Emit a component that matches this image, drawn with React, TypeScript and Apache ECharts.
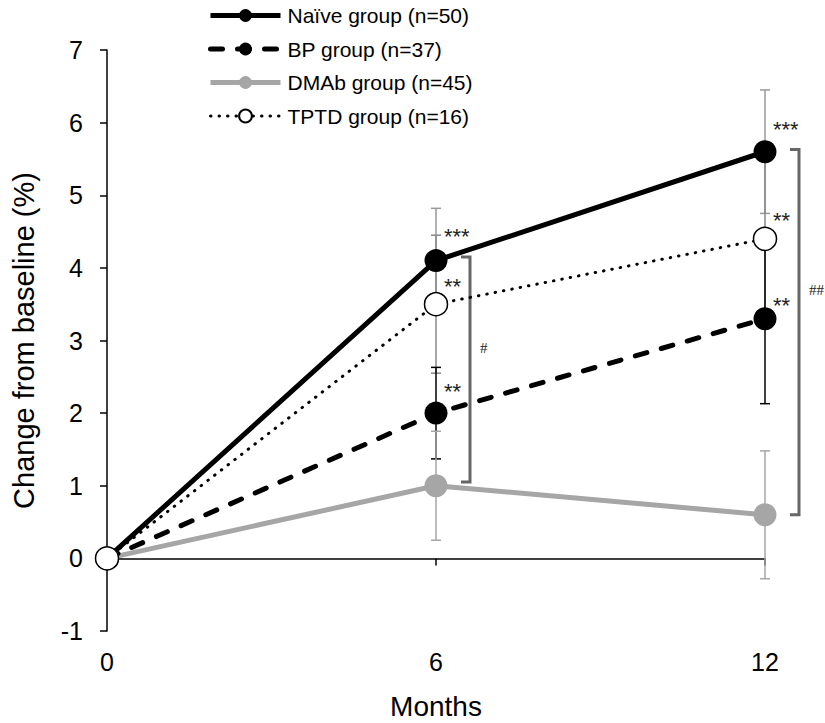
import React, { useEffect, useRef } from 'react';
import * as echarts from 'echarts';

const FONT = '"Liberation Sans", Arial, sans-serif';

const months = [0, 6, 12];
const seriesNames = ['Naïve group (n=50)', 'BP group (n=37)', 'DMAb group (n=45)', 'TPTD group (n=16)'];
const naiveMean = [0, 4.1, 5.6];
const bpMean = [0, 2.0, 3.3];
const dmabMean = [0, 1.0, 0.6];
const tptdMean = [0, 3.5, 4.4];
const naiveSd = [0, 0.72, 0.85];
const bpSd = [0, 0.63, 1.17];
const dmabSd = [0, 0.75, 0.88];
const tptdSd = [0, 0.95, 1.1];

const starMonths = [6, 6, 6, 12, 12, 12];
const starLevels = [4.48, 3.79, 2.34, 5.94, 4.7, 3.53];
const starTexts = ['***', '**', '**', '***', '**', '**'];

const bracketMonths = [6, 12];
const bracketLow = [1.05, 0.6];
const bracketHigh = [4.15, 5.63];
const bracketTexts = ['#', '##'];
const bracketTextLevels = [2.9, 3.7];

const errData = (mean: number[], sd: number[]) =>
  months.map((m, i) => [m, mean[i] - sd[i], mean[i] + sd[i]]).filter((_, i) => sd[i] > 0);

const errRender = (color: string) => (params: any, api: any) => {
  const x = api.value(0);
  const lo = api.coord([x, api.value(1)]);
  const hi = api.coord([x, api.value(2)]);
  const w = 5;
  const style = { stroke: color, lineWidth: 1.5 };
  return {
    type: 'group',
    children: [
      { type: 'line', shape: { x1: lo[0], y1: lo[1], x2: hi[0], y2: hi[1] }, style },
      { type: 'line', shape: { x1: lo[0] - w, y1: lo[1], x2: lo[0] + w, y2: lo[1] }, style },
      { type: 'line', shape: { x1: hi[0] - w, y1: hi[1], x2: hi[0] + w, y2: hi[1] }, style },
    ],
  };
};

const naiveLine = { color: '#000', width: 5 };
const bpLine = { color: '#000', width: 5, type: [12, 15], cap: 'round' };
const dmabLine = { color: '#a6a6a6', width: 5 };
const tptdLine = { color: '#000', width: 3, type: [0.5, 8], cap: 'round' };

export default function App() {
  const ref = useRef<HTMLDivElement>(null);
  useEffect(() => {
    if (!ref.current) return;
    const chart = echarts.init(ref.current, undefined, { renderer: 'svg' });
    const lineData = (vals: number[]) => months.map((m, i) => [m, vals[i]]);
    const option: any = {
      animation: false,
      backgroundColor: '#fff',
      textStyle: { fontFamily: FONT },
      grid: { left: 107, right: 60, top: 50, bottom: 92, outerBoundsMode: 'none' },
      legend: {
        orient: 'vertical',
        left: 208,
        top: 5,
        padding: 0,
        itemWidth: 70,
        itemHeight: 16,
        itemGap: 12.5,
        data: [
          { name: seriesNames[0], lineStyle: naiveLine },
          { name: seriesNames[1], lineStyle: bpLine },
          { name: seriesNames[2], lineStyle: dmabLine },
          { name: seriesNames[3], lineStyle: tptdLine },
        ],
        textStyle: { fontSize: 21, color: '#000', fontFamily: FONT, padding: [0, 0, 0, 2] },
      },
      xAxis: [
        {
          type: 'value', min: 0, max: 12, interval: 6,
          axisLine: { onZero: true, lineStyle: { color: '#000', width: 1.5 } },
          axisTick: { show: true, length: 7, lineStyle: { color: '#000', width: 1.5 } },
          axisLabel: { show: false },
          splitLine: { show: false },
        },
        {
          type: 'value', min: 0, max: 12, interval: 6, position: 'bottom',
          axisLine: { show: false, onZero: false },
          axisTick: { show: false },
          axisLabel: { show: true, margin: 18, fontSize: 25, color: '#000', fontFamily: FONT },
          splitLine: { show: false },
          name: 'Months', nameLocation: 'middle', nameGap: 61,
          nameTextStyle: { fontSize: 28, color: '#000', fontFamily: FONT },
        },
      ],
      yAxis: {
        type: 'value', min: -1, max: 7, interval: 1,
        axisLine: { show: true, onZero: false, lineStyle: { color: '#000', width: 1.5 } },
        axisTick: { show: true, length: 7, lineStyle: { color: '#000', width: 1.5 } },
        axisLabel: { margin: 24, fontSize: 25, color: '#000', fontFamily: FONT },
        splitLine: { show: false },
        name: 'Change from baseline (%)', nameLocation: 'middle', nameGap: 69,
        nameTextStyle: { fontSize: 29, color: '#000', fontFamily: FONT },
      },
      series: [
        { type: 'custom', name: 'errNaive', z: 2, data: errData(naiveMean, naiveSd), renderItem: errRender('#999'), encode: { x: 0, y: [1, 2] }, silent: true },
        { type: 'custom', name: 'errTptd', z: 2, data: errData(tptdMean, tptdSd), renderItem: errRender('#888'), encode: { x: 0, y: [1, 2] }, silent: true },
        { type: 'custom', name: 'errBp', z: 2, data: errData(bpMean, bpSd), renderItem: errRender('#000'), encode: { x: 0, y: [1, 2] }, silent: true },
        { type: 'custom', name: 'errDmab', z: 2, data: errData(dmabMean, dmabSd), renderItem: errRender('#a6a6a6'), encode: { x: 0, y: [1, 2] }, silent: true },
        {
          type: 'custom', name: 'brackets', z: 2, silent: true,
          data: bracketMonths.map((m, i) => [m, bracketLow[i], bracketHigh[i], bracketTextLevels[i]]),
          encode: { x: 0, y: [1, 2] },
          renderItem: (params: any, api: any) => {
            const x = api.value(0);
            const lo = api.coord([x, api.value(1)]);
            const hi = api.coord([x, api.value(2)]);
            const tp = api.coord([x, api.value(3)]);
            const a = lo[0] + 25, b = lo[0] + 34;
            return {
              type: 'group',
              children: [
                { type: 'polyline', shape: { points: [[a, hi[1]], [b, hi[1]], [b, lo[1]], [a, lo[1]]] }, style: { stroke: '#666', lineWidth: 3, fill: 'none' } },
                { type: 'text', x: b + 10, y: tp[1], style: { text: bracketTexts[params.dataIndex], fill: '#222', fontSize: 15, fontFamily: '"Liberation Serif", "Times New Roman", serif', align: 'left', verticalAlign: 'middle' } },
              ],
            };
          },
        },
        {
          type: 'custom', name: 'stars', z: 6, silent: true,
          data: starMonths.map((m, i) => [m, starLevels[i]]),
          encode: { x: 0, y: 1 },
          renderItem: (params: any, api: any) => {
            const p = api.coord([api.value(0), api.value(1)]);
            return { type: 'text', x: p[0] + 8, y: p[1] + 3, style: { text: starTexts[params.dataIndex], fill: '#222', fontSize: 22, fontFamily: FONT, align: 'left', verticalAlign: 'middle' } };
          },
        },
        {
          name: seriesNames[2], type: 'line', z: 3, data: lineData(dmabMean), symbol: 'circle', symbolSize: 23,
          lineStyle: dmabLine, itemStyle: { color: '#a6a6a6' },
        },
        {
          name: seriesNames[1], type: 'line', z: 3, data: lineData(bpMean), symbol: 'circle', symbolSize: 23,
          lineStyle: bpLine, itemStyle: { color: '#000' },
        },
        {
          name: seriesNames[0], type: 'line', z: 3, data: lineData(naiveMean), symbol: 'circle', symbolSize: 23,
          lineStyle: naiveLine, itemStyle: { color: '#000' },
        },
        {
          name: seriesNames[3], type: 'line', z: 3, data: lineData(tptdMean), symbol: 'circle', symbolSize: 23,
          lineStyle: tptdLine,
          itemStyle: { color: '#fff', borderColor: '#000', borderWidth: 1.5 },
        },
      ],
    };
    chart.setOption(option);
    return () => chart.dispose();
  }, []);
  return <div ref={ref} style={{ position: 'fixed', left: 0, top: 0, width: 825, height: 723, background: '#fff' }} />;
}
